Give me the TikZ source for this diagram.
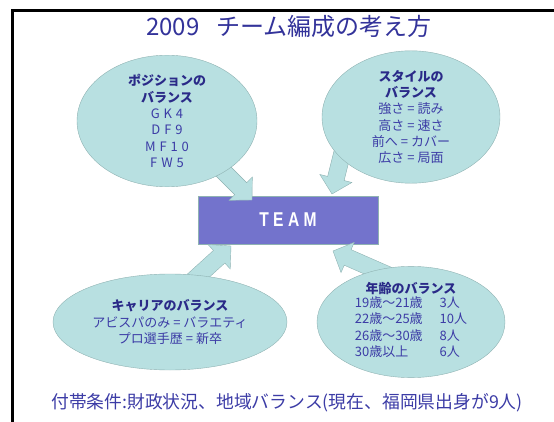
\documentclass[tikz,border=0pt]{standalone}
\usepackage{fontspec}
\setmainfont{Noto Sans CJK JP}
\newfontfamily\spacedfont{Noto Sans CJK JP}[LetterSpace=30]
\newfontfamily\teamfont{Liberation Sans}[FakeStretch=0.78, LetterSpace=22]
\usepackage{xcolor}
\usepackage{tikz}
\usetikzlibrary{shapes.geometric}
\usetikzlibrary{calc}

\definecolor{titleblue}{HTML}{33339A}
\definecolor{textblue}{HTML}{3C3CA6}
\definecolor{headblue}{HTML}{2A2A88}
\definecolor{balloonfill}{HTML}{B8E0E1}
\definecolor{balloonline}{HTML}{8FB2B2}
\definecolor{teamfill}{HTML}{7373CC}

\tikzset{
    balloon/.style = {ellipse, draw=balloonline, fill=balloonfill, inner sep=0pt, align=center, text=textblue, font=\fontsize{13}{16.3}\selectfont},
    team_box/.style = {rectangle, draw=balloonline, fill=teamfill, text=white, minimum width=180pt, minimum height=48pt, inner sep=0pt, font=\teamfont\bfseries\fontsize{20}{20}\selectfont},
    block_arrow/.style = {draw=balloonline, fill=balloonfill, line join=miter}
}
\newcommand\hd[1]{{\color{headblue}\bfseries #1}}
% fat arrow from #1 to tip #2
\newcommand\blockarrow[2]{%
    \coordinate (ah) at ($(#2)!16pt!(#1)$);
    \draw[block_arrow] ($(#1)!8.5pt!90:(#2)$) -- ($(ah)!8.5pt!90:(#2)$) -- ($(ah)!16.5pt!90:(#2)$) -- (#2)
        -- ($(ah)!16.5pt!-90:(#2)$) -- ($(ah)!8.5pt!-90:(#2)$) -- ($(#1)!8.5pt!-90:(#2)$) -- cycle;
}

\begin{document}
\begin{tikzpicture}[x=1pt, y=-1pt]
    \useasboundingbox (0,0) rectangle (554,422);
    \draw[line width=2.5pt] (554,10.5) -- (12.5,10.5) -- (12.5,422);

    \node[text=titleblue, font=\fontsize{24}{24}\selectfont] (title) at (289,26) {2009\hspace{0.7em}チーム編成の考え方};

    \node[team_box] (team) at (288,220) {TEAM};

    % arrows into the box
    \coordinate (pos_from) at (210,158);
    \coordinate (pos_to) at (252,200);
    \coordinate (sty_from) at (343,150);
    \coordinate (sty_to) at (332,194);
    \coordinate (car_from) at (188,285);
    \coordinate (car_to) at (231,246);
    \coordinate (age_from) at (390,276);
    \coordinate (age_to) at (333,251);
    \blockarrow{pos_from}{pos_to}
    \blockarrow{sty_from}{sty_to}
    \blockarrow{car_from}{car_to}
    \blockarrow{age_from}{age_to}

    \node[balloon, minimum width=180pt, minimum height=114pt] (pos) at (167,121)
        {\hd{ポジションの}\\\hd{バランス}\\{\spacedfont GK4}\\{\spacedfont DF9}\\{\spacedfont MF10}\\{\spacedfont FW5}};
    \node[balloon, minimum width=178pt, minimum height=113pt] (sty) at (411,117)
        {\hd{スタイルの}\\\hd{バランス}\\強さ = 読み\\高さ = 速さ\\前へ = カバー\\広さ = 局面};
    \node[balloon, minimum width=234pt, minimum height=96pt] (car) at (170,322)
        {\hd{キャリアのバランス}\\アビスパのみ = バラエティ\\プロ選手歴 = 新卒};
    \node[balloon, minimum width=188pt, minimum height=110pt] (age) at (411,322)
        {\hd{年齢のバランス}\\
        \begin{tabular}{@{}l@{\hspace{17pt}}l@{}}
            19歳～21歳 & 3人\\
            22歳～25歳 & 10人\\
            26歳～30歳 & 8人\\
            30歳以上 & 6人
        \end{tabular}};

    \node[text=textblue, font=\fontsize{17.8}{17.8}\selectfont] (cond) at (287,403)
        {付帯条件:財政状況、地域バランス(現在、福岡県出身が9人)};
\end{tikzpicture}
\end{document}
